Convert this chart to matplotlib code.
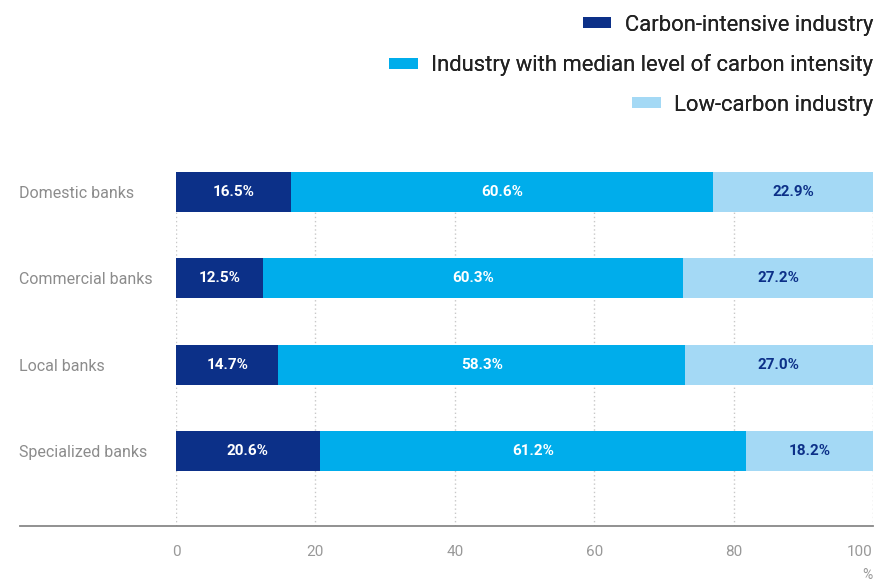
import numpy as np
import matplotlib
import matplotlib.pyplot as plt
from matplotlib.patches import Patch
from matplotlib.lines import Line2D

matplotlib.use("Agg")
plt.rcParams['font.family'] = ['Roboto', 'DejaVu Sans']

# 数据
banks = ["Domestic banks", "Commercial banks", "Local banks", "Specialized banks"]
carbon_intensive = [16.5, 12.5, 14.7, 20.6]
median_level = [60.6, 60.3, 58.3, 61.2]
low_carbon = [22.9, 27.2, 27.0, 18.2]
series_names = ["Carbon-intensive industry",
                "Industry with median level of carbon intensity",
                "Low-carbon industry"]
colors = ["#0c3088", "#00adeb", "#a4d9f5"]
text_colors = ["white", "white", "#0c3088"]
xticks = [0, 20, 40, 60, 80, 100]

fig = plt.figure(figsize=(8.78, 5.81), dpi=100)
ax = fig.add_axes([176 / 878, 1 - 526 / 581, 697 / 878, 354 / 581])

y = np.arange(len(banks))[::-1]
left = np.zeros(len(banks))
for vals, c, tc in zip([carbon_intensive, median_level, low_carbon], colors, text_colors):
    vals = np.array(vals)
    ax.barh(y, vals, left=left, height=0.46, color=c, edgecolor="none", zorder=3)
    for yi, l, v in zip(y, left, vals):
        ax.text(l + v / 2, yi, f"{v:.1f}%", ha="center", va="center",
                color=tc, fontsize=11, fontweight="bold", zorder=4)
    left += vals

ax.set_xlim(0, 100)
ax.set_ylim(-0.867, 3.23)
ax.set_xticks(xticks)
ax.set_xticklabels([str(t) for t in xticks], color="#999999", fontsize=11)
ax.get_xticklabels()[-1].set_horizontalalignment("right")
ax.set_yticks(y)
ax.set_yticklabels(banks, color="#8c8c8c", fontsize=11.5)
for lab in ax.get_yticklabels():
    lab.set_horizontalalignment("left")
    lab.set_x(-157 / 697)
ax.tick_params(axis="both", length=0)
ax.tick_params(axis="x", pad=14)
ax.tick_params(axis="y", pad=0)
ax.grid(axis="x", linestyle=(0, (1, 2)), color="#c8c8c8", linewidth=1, zorder=0)
for s in ax.spines.values():
    s.set_visible(False)

# 底部轴线
fig.add_artist(Line2D([20 / 878, 873 / 878], [1 - 526 / 581] * 2,
                      color="#888888", linewidth=1.3))
fig.text(867 / 878, 1 - 575 / 581, "%", color="#999999", fontsize=10,
         ha="center", va="center")

# 图例（每行右对齐）
for i, (name, c) in enumerate(zip(series_names, colors)):
    h = Patch(facecolor=c, edgecolor="none")
    leg = fig.legend(handles=[h], labels=[name], loc="center right",
                     bbox_to_anchor=(873 / 878, 1 - (25 + 40 * i) / 581),
                     frameon=False, fontsize=15.8, handlelength=1.3,
                     handleheight=0.4, handletextpad=0.6, borderpad=0,
                     borderaxespad=0, labelcolor="#222222")
    fig.add_artist(leg)

fig.savefig("out.png", dpi=100)
